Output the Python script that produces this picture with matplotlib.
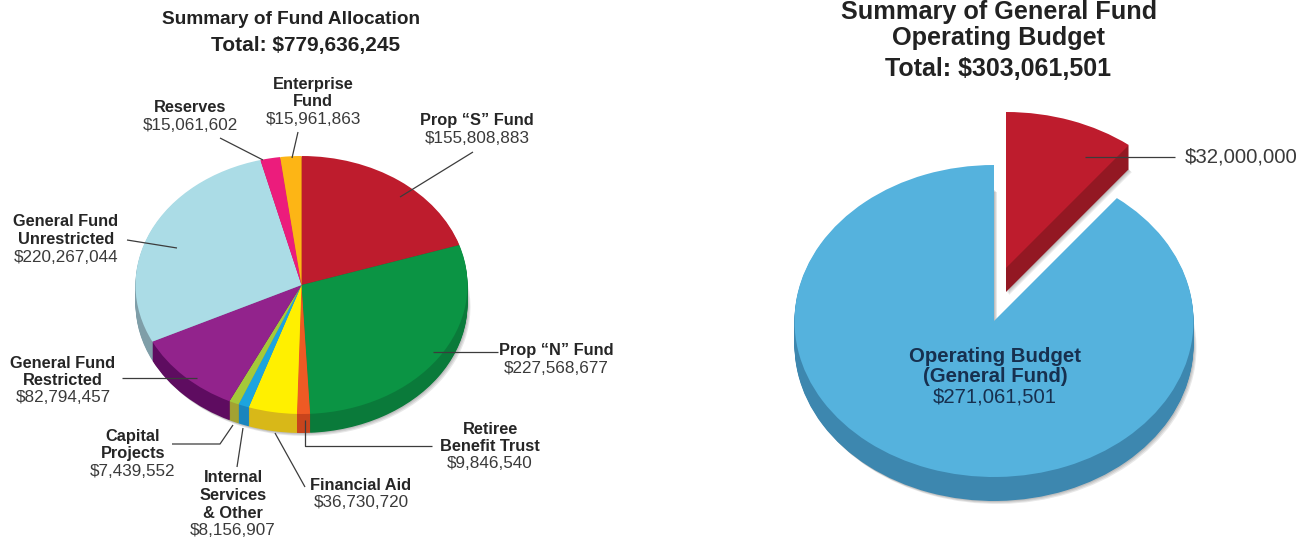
import matplotlib
matplotlib.use('Agg')
from matplotlib import pyplot as plt

plt.rcParams['font.family'] = ['Liberation Sans', 'DejaVu Sans']

W, H = 1311, 539

# left pie, clockwise from 12 o'clock
alloc_names = ['Prop “S” Fund', 'Prop “N” Fund', 'Retiree\nBenefit Trust', 'Financial Aid',
               'Internal\nServices\n& Other', 'Capital\nProjects', 'General Fund\nRestricted',
               'General Fund\nUnrestricted', 'Reserves', 'Enterprise\nFund']
alloc_values = [155808883, 227568677, 9846540, 36730720, 8156907, 7439552, 82794457,
                220267044, 15061602, 15961863]
alloc_colors = ['#BE1C2D', '#0B9444', '#EE5A24', '#FFF000', '#1CA4DF', '#A5C93A', '#92238C',
                '#ABDCE6', '#EC1C7C', '#FDB515']
alloc_sides = ['#8E1620', '#0A7A3A', '#C8441C', '#D8B818', '#1A85BE', '#A3A232', '#5E0C60',
               '#7F9EA8', '#B0145C', '#C89010']

# right pie
budget_names = ['', 'Operating Budget\n(General Fund)']
budget_values = [32000000, 271061501]
budget_colors = ['#BE1C2D', '#55B2DD']
budget_sides = ['#931823', '#3D87AF']


def pie_axes(cx, cy, rx, ry):
    ax = fig.add_axes([0, 0, 1, 1])
    ax.patch.set_alpha(0)
    return ax, ((0 - cx) / rx, (W - cx) / rx), ((cy - H) / ry, cy / ry)


def draw_pie(cx, cy, rx, ry, depth, values, colors, sides, move=None):
    ax, xl, yl = pie_axes(cx, cy, rx, ry)
    # soft shadow under the disc
    for s in (3, 2, 1):
        w, _ = ax.pie(values, colors=['black'] * len(values), startangle=90, counterclock=False,
                      center=(s / rx, -(depth + s) / ry),
                      wedgeprops={'linewidth': 0, 'alpha': 0.09})
        if move:
            w[0].set_center(((move[0] + s) / rx, (move[1] - depth - s) / ry))
    # side of the disc: the same pie stacked downwards in a darker colour
    for d in range(depth, 0, -1):
        w, _ = ax.pie(values, colors=sides, startangle=90, counterclock=False,
                      center=(0, -d / ry), wedgeprops={'linewidth': 0})
        if move:
            w[0].set_center((move[0] / rx, move[1] / ry - d / ry))
    w, _ = ax.pie(values, colors=colors, startangle=90, counterclock=False,
                  wedgeprops={'linewidth': 0})
    if move:
        w[0].set_center((move[0] / rx, move[1] / ry))
    ax.set_aspect('auto')
    ax.set_xlim(xl)
    ax.set_ylim(yl)
    ax.axis('off')


def label(x, y, name, value=None):
    # y is the centre of the first line, lines are 17.5 px apart
    lines = name.split('\n') if name else []
    for i, s in enumerate(lines):
        top.text(x, y + i * 17.5, s, ha='center', va='center', fontsize=11.8,
                 fontweight='bold', color='#262626')
    if value is not None:
        top.text(x, y + len(lines) * 17.5, '${:,}'.format(value), ha='center', va='center',
                 fontsize=12.3, color='#3a3a3a')


def leader(xs, ys, color='#3c3c3c'):
    top.plot(xs, ys, color=color, lw=0.9, solid_capstyle='butt')


fig = plt.figure(figsize=(W / 100, H / 100), dpi=100)

draw_pie(301.5, 285, 166, 129, 19, alloc_values, alloc_colors, alloc_sides)
draw_pie(994, 321, 199.5, 156, 24, budget_values, budget_colors, budget_sides, move=(12, 53))

top = fig.add_axes([0, 0, 1, 1])
top.patch.set_alpha(0)
top.set_xlim(0, W)
top.set_ylim(H, 0)
top.axis('off')

top.text(291, 19, 'Summary of Fund Allocation', ha='center', va='center', fontsize=13.7, fontweight='bold', color='#222222')
top.text(306, 46, 'Total: $779,636,245', ha='center', va='center', fontsize=15, fontweight='bold', color='#222222')
top.text(999, 12, 'Summary of General Fund', ha='center', va='center', fontsize=18.2, fontweight='bold', color='#222222')
top.text(998, 38, 'Operating Budget', ha='center', va='center', fontsize=18.2, fontweight='bold', color='#222222')
top.text(998, 69, 'Total: $303,061,501', ha='center', va='center', fontsize=18, fontweight='bold', color='#222222')

label(477, 121, alloc_names[0], alloc_values[0])
label(556, 351, alloc_names[1], alloc_values[1])
label(490, 429, alloc_names[2], alloc_values[2])
label(361, 485, alloc_names[3], alloc_values[3])
label(233, 478, alloc_names[4], alloc_values[4])
label(133, 436, alloc_names[5], alloc_values[5])
label(63, 363, alloc_names[6], alloc_values[6])
label(66, 222, alloc_names[7], alloc_values[7])
label(190, 108, alloc_names[8], alloc_values[8])
label(313, 84, alloc_names[9], alloc_values[9])

leader([473, 400], [152, 197])
leader([433, 498], [352, 352])
leader([305, 305, 432], [420, 446, 446])
leader([305, 275], [487, 433])
leader([237, 243], [467, 428])
leader([172, 220, 233], [444, 444, 425])
leader([122, 197], [378, 378])
leader([127, 177], [240, 248])
leader([220, 263], [138, 160])
leader([298, 292], [132, 158])

leader([1085, 1175], [157, 157])
top.text(1241, 157, '${:,}'.format(budget_values[0]), ha='center', va='center', fontsize=14.7, color='#3a3a3a')
top.text(995, 357, 'Operating Budget', ha='center', va='center', fontsize=14.7, fontweight='bold', color='#17304f')
top.text(995, 377, '(General Fund)', ha='center', va='center', fontsize=14.7, fontweight='bold', color='#17304f')
top.text(995, 397, '${:,}'.format(budget_values[1]), ha='center', va='center', fontsize=14.7, color='#17304f')

fig.savefig('out.png', dpi=100)
